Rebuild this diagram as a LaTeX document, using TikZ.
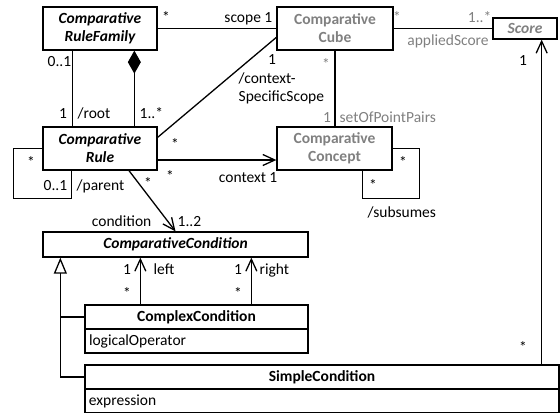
\documentclass[tikz,border=0pt]{standalone}
\usepackage{fontspec}
\setmainfont{Carlito}
\usetikzlibrary{arrows.meta}
\definecolor{umlgray}{RGB}{128,128,128}
\newcommand\umlfont{\fontsize{15.5bp}{18bp}\selectfont}
\begin{document}
\begin{tikzpicture}[x=1bp,y=-1bp,
  line width=1.3bp,
  cls/.style={draw, inner sep=0pt, align=center, font=\umlfont\bfseries\itshape},
  grey/.style={text=umlgray},
  plain/.style={draw, inner sep=0pt, font=\umlfont},
  lbl/.style={inner sep=0pt, anchor=base, font=\umlfont},
  lblw/.style={inner sep=0pt, anchor=base west, font=\umlfont},
  lble/.style={inner sep=0pt, anchor=base east, font=\umlfont},
  nav/.style={-{Straight Barb[length=12bp,width=11bp]}},
  comp/.style={{Diamond[length=23bp,width=13bp]}-},
  gen/.style={-{Triangle[open,length=16bp,width=13bp]}},
]
\useasboundingbox (0,0) rectangle (560,412);

% classes
\node[cls, minimum width=114bp, minimum height=43bp] (rf) at (100,28.5) {Comparative\\RuleFamily};
\node[cls, grey, font=\umlfont\bfseries, minimum width=116bp, minimum height=43bp] (cube) at (335,28.5) {Comparative\\Cube};
\node[cls, grey, minimum width=64bp, minimum height=21bp] (score) at (525,28.5) {Score};
\node[cls, minimum width=114bp, minimum height=43bp] (rule) at (100,148.5) {Comparative\\Rule};
\node[cls, grey, font=\umlfont\bfseries, minimum width=115bp, minimum height=43bp] (concept) at (334.5,148.5) {Comparative\\Concept};
\node[cls, minimum width=265bp, minimum height=25bp] (cond) at (175.5,244.5) {ComparativeCondition};

\node[plain, font=\umlfont\bfseries, minimum width=223bp, minimum height=24bp] (cxhead) at (196.5,317) {ComplexCondition};
\node[plain, minimum width=223bp, minimum height=24bp, text width=215bp, align=left] (cxattr) at (196.5,341) {logicalOperator};
\node[plain, font=\umlfont\bfseries, minimum width=474bp, minimum height=24bp] (smhead) at (322,377) {SimpleCondition};
\node[plain, minimum width=474bp, minimum height=24bp, text width=466bp, align=left] (smattr) at (322,401) {expression};

% associations
\draw (rf) -- (cube);
\draw (cube) -- (score);
\draw ([xshift=30bp]rf.south west) -- ([xshift=30bp]rule.north west);
\draw[comp] ([xshift=92bp]rf.south west) -- ([xshift=92bp]rule.north west);
\draw ([yshift=-31bp]cube.north west) -- ([yshift=-11bp]rule.north east);
\draw (cube.south) -- (cube.south |- concept.north);
\draw[nav] ([yshift=-11.5bp]rule.east) -- ([yshift=-11.5bp]rule.east -| concept.west);
\draw[nav] ([xshift=29bp]rule.south) -- (cond.north);
\draw (rule.west) -- ++(-29,0) -- ++(0,50) -| ([xshift=29bp]rule.south west);
\draw (concept.east) -- ++(27,0) -- ++(0,50) -| ([xshift=86bp]concept.south west);
\draw[nav] ([xshift=56bp]cxhead.north west) -- ([xshift=56bp]cxhead.north west |- cond.south);
\draw[nav] ([xshift=167bp]cxhead.north west) -- ([xshift=167bp]cxhead.north west |- cond.south);
\draw[nav] ([xshift=-18bp]smhead.north east) -- ([xshift=-18bp]smhead.north east |- score.south);

% generalisation
\coordinate (gtip) at ([xshift=18bp]cond.south west);
\draw[gen] (smhead.west) -| (gtip);
\draw (cxhead.west) -- (cxhead.west -| gtip);

% association ends
\node[lbl] (m1) at (166,22) {*};
\node[lble] (m2) at (273,22) {scope 1};
\node[lbl, grey] (m3) at (397,22) {*};
\node[lble, grey] (m4) at (492,22) {1..*};
\node[lbl, grey] (m5) at (448,45) {appliedScore};
\node[lblw] (m6) at (47,66) {0..1};
\node[lbl] (m7) at (63,118) {1};
\node[lblw] (m8) at (77,118) {/root};
\node[lblw] (m9) at (139,118) {1..*};
\node[lbl] (m10) at (272,64) {1};
\node[lblw, align=left] (m11) at (238,101) {/context-\\SpecificScope};
\node[lbl, grey] (m12) at (326,69) {*};
\node[lbl, grey] (m13) at (327,122) {1};
\node[lblw, grey] (m14) at (339,122) {setOfPointPairs};
\node[lbl] (m15) at (31,167) {*};
\node[lblw] (m16) at (43,190) {0..1};
\node[lblw] (m17) at (76,190) {/parent};
\node[lbl] (m18) at (175,149) {*};
\node[lbl] (m19) at (148,188) {*};
\node[lbl] (m20) at (170,181) {*};
\node[lble] (m21) at (278,182) {context 1};
\node[lble] (m22) at (152,226) {condition};
\node[lblw] (m23) at (177,226) {1..2};
\node[lbl] (m24) at (403,167) {*};
\node[lbl] (m25) at (373,190) {*};
\node[lblw] (m26) at (367,217) {/subsumes};
\node[lbl] (m27) at (127,274) {1};
\node[lblw] (m28) at (153,274) {left};
\node[lbl] (m29) at (127,298) {*};
\node[lbl] (m30) at (238,274) {1};
\node[lblw] (m31) at (259,274) {right};
\node[lbl] (m32) at (238,298) {*};
\node[lbl] (m33) at (523,65) {1};
\node[lbl] (m34) at (523,352) {*};
\end{tikzpicture}
\end{document}
